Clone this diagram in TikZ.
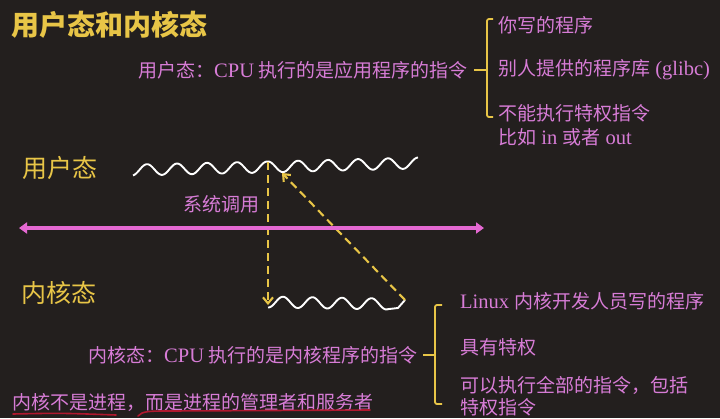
\documentclass[tikz,border=0pt]{standalone}
\usepackage{fontspec}
\setmainfont{Noto Sans CJK SC}
\newfontfamily\lat[Scale=1.08]{Liberation Serif}
\usetikzlibrary{arrows.meta}
\definecolor{bg}{HTML}{231F1E}
\definecolor{yel}{HTML}{E8C547}
\definecolor{pnk}{HTML}{D77CD6}
\definecolor{arrpink}{HTML}{E468D2}
\definecolor{ulred}{HTML}{B0182E}
\tikzset{
  txt/.style={anchor=west, inner sep=0pt, text=pnk, font=\fontsize{19}{21}\selectfont},
  ylab/.style={anchor=west, inner sep=0pt, text=yel, font=\fontsize{25}{27}\selectfont},
  brace/.style={draw=yel, line width=1.8pt, rounded corners=2pt},
  wave/.style={draw=white, line width=1.9pt, line join=round},
  dasharrow/.style={draw=yel, line width=2.1pt, dash pattern=on 8pt off 5pt, -{Straight Barb[length=6pt,width=10pt]}},
}
\begin{document}
\begin{tikzpicture}[x=1pt,y=-1pt]
\fill[bg] (0,0) rectangle (720,418);
\useasboundingbox (0,0) rectangle (720,418);

% title
\node[anchor=west, inner sep=0pt, text=yel, font=\fontsize{28}{30}\selectfont\bfseries] (title) at (11,25) {用户态和内核态};

% user mode description
\node[txt] (ut) at (138,70) {用户态：{\lat CPU} 执行的是应用程序的指令};
\node[txt] (u1) at (498,25) {你写的程序};
\node[txt] (u2) at (498,70) {别人提供的程序库{\lat\ (glibc)}};
\node[txt] (u3) at (498,113) {不能执行特权指令};
\node[txt] (u4) at (498,137) {比如{\lat\ in }或者{\lat\ out}};
\coordinate (ubt) at (493,19);
\coordinate (ubb) at (493,117);
\coordinate (ubm) at (474,70);
\draw[brace] (ubt) -- (487,19) -- (487,117) -- (ubb);
\draw[brace] (ubm) -- (487,70);

% labels
\node[ylab] (ulab) at (22,168) {用户态};
\node[ylab] (klab) at (21,293) {内核态};
\node[txt] (sys) at (183,204) {系统调用};

% waves
\coordinate (ucusp) at (268,162);
\coordinate (uret) at (282,173);
\coordinate (kstart) at (268,305);
\coordinate (kend) at (405,300);
\draw[wave] plot[domain=133:268, samples=120] (\x, {170 - 3*(\x-133)/135 - 5.5*cos(12*(\x-147))});
\draw[wave] plot[domain=268:418, samples=120] (\x, {167 - 4*(\x-268)/150 - 5.5*cos(12*(\x-268))});
\draw[wave] plot[domain=268:388, samples=120] (\x, {302 + 2*(\x-268)/120 - 5.5*cos(12.2*(\x-283))}) -- (398,308) -- (kend);

% dashed arrows
\draw[dasharrow] (ucusp) -- (kstart);
\draw[dasharrow] (kend) -- (uret);

% pink double arrow
\coordinate (al) at (19,228);
\coordinate (ar) at (484,228);
\draw[arrpink, line width=4.5pt, {Triangle[length=8pt,width=11pt]}-{Triangle[length=8pt,width=11pt]}] (al) -- (ar);

% kernel mode description
\node[txt] (kt) at (88,355) {内核态：{\lat CPU} 执行的是内核程序的指令};
\node[txt] (k1) at (460,301) {{\lat Linux }内核开发人员写的程序};
\node[txt] (k2) at (460,347) {具有特权};
\node[txt] (k3) at (460,385) {可以执行全部的指令，包括};
\node[txt] (k4) at (460,407) {特权指令};
\coordinate (kbt) at (442,305);
\coordinate (kbb) at (442,404);
\coordinate (kbm) at (423,355);
\draw[brace] (kbt) -- (435,305) -- (435,404) -- (kbb);
\draw[brace] (kbm) -- (435,355);

% note
\node[txt] (note) at (12,402) {内核不是进程，而是进程的管理者和服务者};
\draw[ulred, line width=1.6pt, line cap=round] (13,414) .. controls (60,413) .. (116,415);
\draw[ulred, line width=1.6pt, line cap=round] (138,416) .. controls (142,411) and (150,411) .. (170,411) -- (370,410);
\end{tikzpicture}
\end{document}
